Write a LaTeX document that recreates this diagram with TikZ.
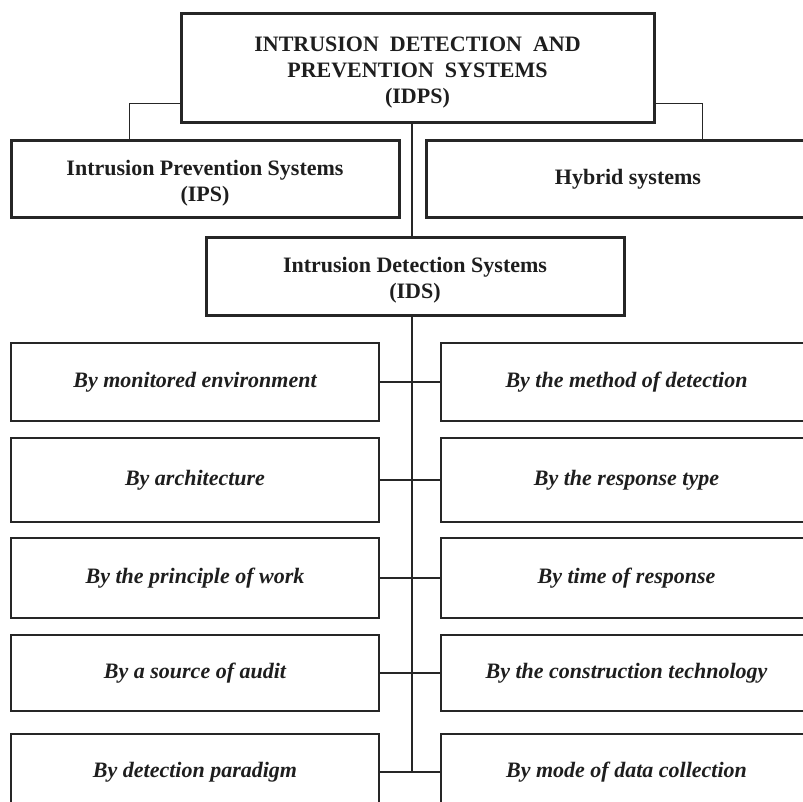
\documentclass[tikz,border=0pt]{standalone}
\usepackage{fontspec}
\setmainfont{Liberation Serif}
\begin{document}
\begin{tikzpicture}[x=1pt,y=-1pt,
  lc/.style={draw={rgb,255:red,38;green,38;blue,38}},
  heavybox/.style={lc, line width=3pt, inner sep=0pt},
  heavytext/.style={inner sep=0pt, align=center,
    font=\fontsize{22}{26}\selectfont\bfseries, text={rgb,255:red,30;green,30;blue,30}},
  catbox/.style={lc, line width=1.6pt, inner sep=0pt, align=center,
    font=\fontsize{22}{26}\selectfont\bfseries\itshape, text={rgb,255:red,30;green,30;blue,30}},
  wire/.style={lc, line width=1.6pt}]
\useasboundingbox (0,0) rectangle (803,802);
\clip (0,0) rectangle (803,802);
\fill[white] (0,0) rectangle (803,802);
% top level
\node[heavybox, minimum width=473pt, minimum height=109pt] (top) at (417.5,68.5) {};
\node[heavytext] (toptext) at (417.5,73) {INTRUSION~~DETECTION~~AND\\PREVENTION~~SYSTEMS\\(IDPS)};
\node[heavybox, minimum width=388pt, minimum height=77pt] (ips) at (205,179.5) {};
\node[heavytext] (ipstext) at (205,183) {Intrusion Prevention Systems\\(IPS)};
\node[heavybox, heavytext, minimum width=404pt, minimum height=77pt] (hyb) at (628,179.5)
  {Hybrid systems};
\node[heavybox, minimum width=418pt, minimum height=77pt] (ids) at (415,276.5) {};
\node[heavytext] (idstext) at (415,280.5) {Intrusion Detection Systems\\(IDS)};
% categories
\node[catbox, minimum width=368pt, minimum height=78pt] (l1) at (195,382) {By monitored environment};
\node[catbox, minimum width=371pt, minimum height=78pt] (r1) at (626.5,382) {By the method of detection};
\node[catbox, minimum width=368pt, minimum height=84pt] (l2) at (195,480) {By architecture};
\node[catbox, minimum width=371pt, minimum height=84pt] (r2) at (626.5,480) {By the response type};
\node[catbox, minimum width=368pt, minimum height=80pt] (l3) at (195,578) {By the principle of work};
\node[catbox, minimum width=371pt, minimum height=80pt] (r3) at (626.5,578) {By time of response};
\node[catbox, minimum width=368pt, minimum height=76pt] (l4) at (195,673) {By a source of audit};
\node[catbox, minimum width=371pt, minimum height=76pt] (r4) at (626.5,673) {By the construction technology};
\node[catbox, minimum width=368pt, minimum height=76pt] (l5) at (195,772) {By detection paradigm};
\node[catbox, minimum width=371pt, minimum height=76pt] (r5) at (626.5,772) {By mode of data collection};
% connectors
\coordinate (spine) at (412,0);
\draw[wire] ([yshift=21pt]top.south west) -| ([xshift=120pt]ips.north west);
\draw[wire] ([yshift=21pt]top.south east) -| ([xshift=278pt]hyb.north west);
\draw[wire] (top.south -| spine) -- (ids.north -| spine);
\draw[wire] (ids.south -| spine) -- (spine |- l5.east);
\draw[wire] (l1.east) -- (r1.west);
\draw[wire] (l2.east) -- (r2.west);
\draw[wire] (l3.east) -- (r3.west);
\draw[wire] (l4.east) -- (r4.west);
\draw[wire] (l5.east) -- (r5.west);
\end{tikzpicture}
\end{document}
